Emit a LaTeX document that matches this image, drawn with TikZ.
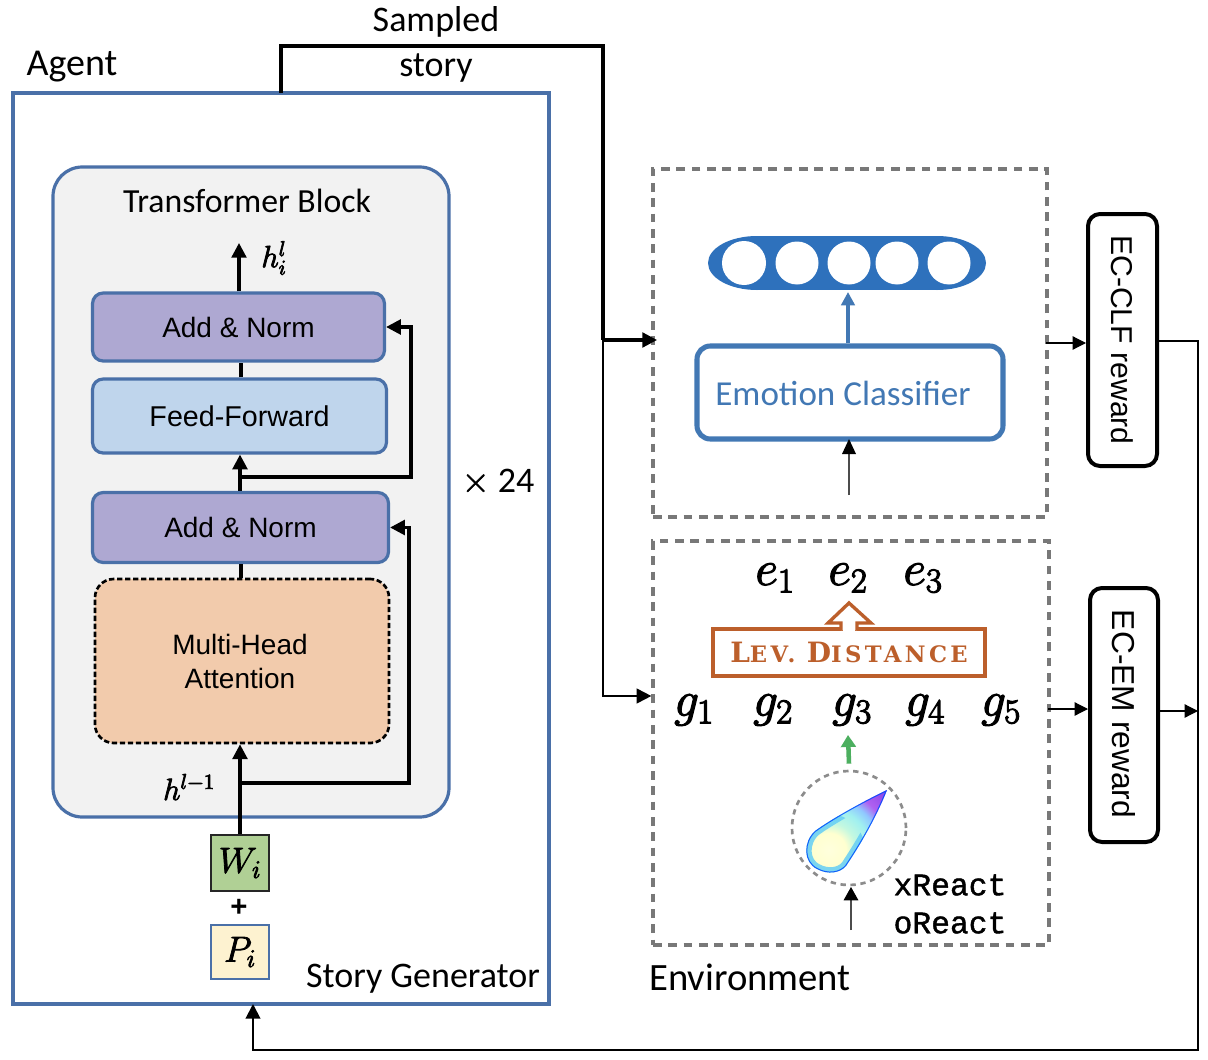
\RequirePackage{fix-cm}
\documentclass[tikz,border=0pt]{standalone}
\usepackage{fontspec}
\setmainfont{Carlito}
\newfontfamily\arialf{Liberation Sans}
\newfontfamily\monof{Liberation Mono}
\newfontfamily\levf[LetterSpace=15]{DejaVu Serif}
\usetikzlibrary{arrows.meta,positioning,calc}
\DeclareMathSizes{37}{37}{26}{18}
\DeclareMathSizes{27}{27}{19}{14}
\DeclareMathSizes{23}{23}{16}{12}
\definecolor{bluebox}{HTML}{4A70A8}
\definecolor{graybg}{HTML}{F2F2F2}
\definecolor{purp}{HTML}{AEA8D2}
\definecolor{ffblue}{HTML}{BFD5EC}
\definecolor{peach}{HTML}{F2CBAC}
\definecolor{wgreen}{HTML}{B0D095}
\definecolor{pyellow}{HTML}{FDF2D0}
\definecolor{dashgray}{HTML}{787878}
\definecolor{clsblue}{HTML}{4278B4}
\definecolor{ovalblue}{HTML}{2E71BC}
\definecolor{levc}{HTML}{BC5F2B}
\definecolor{greenarr}{HTML}{4CAF5F}
\definecolor{tb1}{HTML}{FFFFDD}
\definecolor{tb2}{HTML}{FFFFD0}
\definecolor{tb3}{HTML}{C4F8E0}
\definecolor{tb4}{HTML}{A0F0F0}
\definecolor{tb5}{HTML}{90C8FF}
\definecolor{tb6}{HTML}{B060F0}
\definecolor{tb7}{HTML}{8040E8}
\pgfdeclareradialshading{teargrad}{\pgfpoint{0bp}{0bp}}{%
 color(0bp)=(tb1); color(5bp)=(tb2); color(8bp)=(tb3); color(12bp)=(tb4); color(15bp)=(tb5); color(18bp)=(tb6); color(25bp)=(tb7); color(50bp)=(tb7)}
\newcommand{\thk}[2]{\special{pdf:code 2 Tr #1 w 0 G}#2\special{pdf:code 0 Tr}}
\tikzset{
 x=0.75pt,y=-0.75pt,
 blockbox/.style={draw=bluebox,line width=2.4pt,rounded corners=8pt,inner sep=0pt,font=\arialf\fontsize{21}{24}\selectfont,text=black},
 dbox/.style={draw=dashgray,fill=white,dash pattern=on 6.5pt off 5pt,line width=2.4pt,inner sep=0pt},
 reward/.style={draw=black,line width=3pt,rounded corners=9pt,inner sep=0pt,fill=white},
 rewtext/.style={rotate=-90,font=\arialf\fontsize{22.6}{24}\selectfont,inner sep=0pt},
 lab/.style={font=\fontsize{27}{30}\selectfont,inner sep=0pt},
 mathlab/.style={inner sep=0pt,font=\fontsize{37}{40}\selectfont},
 wire/.style={draw=black,line width=2.4pt},
 thinw/.style={draw=black,line width=0.9pt},
 head/.style={-{Triangle[length=11pt,width=11pt]}},
 smallhead/.style={-{Triangle[length=10pt,width=10pt]}},
}
\def\teardrop{(887,790) .. controls (860,803) and (830,820) .. (815,831) .. controls (803,842) and (803,862) .. (817,869) .. controls (828,875) and (840,873) .. (846,866) .. controls (860,845) and (875,820) .. (887,790) -- cycle}
\begin{document}
\begin{tikzpicture}
\useasboundingbox (0,0) rectangle (1208,1060);
% agent
\node[draw=bluebox,fill=white,line width=2.4pt,minimum width=536*0.75pt,minimum height=911*0.75pt,inner sep=0pt] (agent) at (281,548.5) {};
\node[lab,font=\fontsize{28.5}{30}\selectfont] (agentl) at (72,67) {Agent};
\node[draw=bluebox,fill=graybg,line width=2.4pt,rounded corners=22pt,minimum width=396*0.75pt,minimum height=650*0.75pt,inner sep=0pt] (tb) at (251,492) {};
\node[lab,font=\fontsize{25.3}{28}\selectfont] (tbl) at (247,201) {Transformer Block};
\node[blockbox,fill=purp,minimum width=292*0.75pt,minimum height=68*0.75pt] (an1) at (238.5,327) {Add \& Norm};
\node[blockbox,fill=ffblue,minimum width=294*0.75pt,minimum height=74*0.75pt,font=\arialf\fontsize{21.5}{24}\selectfont] (ff) at (239.5,416) {Feed-Forward};
\node[blockbox,fill=purp,minimum width=296*0.75pt,minimum height=70*0.75pt] (an2) at (240.5,527.5) {Add \& Norm};
\node[draw=black,dash pattern=on 4pt off 2pt,line width=2pt,fill=peach,rounded corners=14pt,minimum width=294*0.75pt,minimum height=164*0.75pt,inner sep=0pt,align=center,font=\arialf\fontsize{21}{25.5}\selectfont] (mha) at (242,661) {Multi-Head\hspace*{3pt}\\Attention\hspace*{3pt}};
\node[draw=black!85,line width=2pt,fill=wgreen,minimum width=58*0.75pt,minimum height=56*0.75pt,inner sep=0pt,font=\fontsize{27}{30}\selectfont] (wi) at (240,863) {\thk{0.6}{$W_i$}};
\node[draw=bluebox,line width=2pt,fill=pyellow,minimum width=58*0.75pt,minimum height=54*0.75pt,inner sep=0pt,font=\fontsize{27}{30}\selectfont] (pi) at (240,952) {\thk{0.6}{$P_i$}};
\node[inner sep=0pt,font=\arialf\fontsize{22}{24}\selectfont\bfseries] (plus) at (239,908) {+};
\node[mathlab,font=\fontsize{23}{26}\selectfont] (hl) at (274,258) {\thk{0.6}{$h_i^l$}};
\node[mathlab,font=\fontsize{23}{26}\selectfont] (hm) at (189,787) {\thk{0.6}{$h^{l-1}$}};
\node[lab] (times) at (498,482) {\thk{0.4}{$\times$} 24};
\node[lab] (sg) at (423,979) {Story Generator};
\node[lab] (sam) at (436,22) {Sampled};
\node[lab] (sto) at (436,68) {story};
\node[lab,font=\fontsize{29}{32}\selectfont] (env) at (750,977) {Environment};
% internal wires
\coordinate (top) at (239,243);
\draw[wire,head] (an1.north -| top) -- (top);
\draw[wire] (ff.north -| 241,0) -- (an1.south -| 241,0);
\draw[wire,head] (an2.north -| 240,0) -- (ff.south -| 240,0);
\coordinate (b2) at (240,477); \coordinate (r2) at (411,477);
\draw[wire,head] (b2) -- (r2) |- (an1.east);
\draw[wire] (mha.north -| 241,0) -- (an2.south -| 241,0);
\draw[wire,head] (wi.north) -- (mha.south -| wi.north);
\coordinate (b1) at (240,783); \coordinate (r1) at (409,783);
\draw[wire,head] (b1) -- (r1) |- (an2.east);
% right boxes
\node[dbox,minimum width=394*0.75pt,minimum height=348*0.75pt] (box1) at (850,343) {};
\node[dbox,minimum width=396*0.75pt,minimum height=404*0.75pt] (box2) at (851,743) {};
% Oval
\fill[ovalblue] (757,263) ellipse [x radius=49,y radius=27];
\fill[ovalblue] (937,263) ellipse [x radius=49,y radius=27];
\fill[ovalblue] (757,236) rectangle (937,290);
\node[circle,fill=white,minimum size=44*0.75pt,inner sep=0pt] (c1) at (744,263) {};
\node[circle,fill=white,minimum size=43*0.75pt,inner sep=0pt] (c2) at (797,263) {};
\node[circle,fill=white,minimum size=43*0.75pt,inner sep=0pt] (c3) at (849,263) {};
\node[circle,fill=white,minimum size=43*0.75pt,inner sep=0pt] (c4) at (897,263) {};
\node[circle,fill=white,minimum size=43*0.75pt,inner sep=0pt] (c5) at (949,263) {};
\coordinate (ovalb) at (848,292);
\node[draw=clsblue,line width=3.8pt,fill=white,rounded corners=10pt,minimum width=306*0.75pt,minimum height=93*0.75pt,inner sep=0pt] (ec) at (850,392.5) {};
\node[inner sep=0pt,text=clsblue,font=\fontsize{26.3}{28}\selectfont] (ecl) at (843,393) {Emotion Classifier};
\draw[draw=clsblue,line width=3pt,smallhead] (ec.north -| ovalb) -- (ovalb);
\coordinate (ecin) at (849,495);
\draw[draw=black!70,line width=0.8pt] (ecin) -- (849,450);
\draw[draw=none,fill=black] (849,439) -- (856,454) -- (842,454) -- cycle;
% lev
\node[draw=levc,line width=2.5pt,fill=white,minimum width=272*0.75pt,minimum height=47*0.75pt,inner sep=0pt,text=levc] (lev) at (849,652.5) {\levf\bfseries\fontsize{21}{22}\selectfont L\fontsize{17}{22}\selectfont EV. \fontsize{21}{22}\selectfont D\fontsize{17}{22}\selectfont ISTANCE};
\draw[draw=levc,line width=2.5pt,fill=white,line join=miter] (841,630) -- (841,623) -- (828,623) -- (849,603) -- (871,623) -- (857,623) -- (857,630);
\fill[white] (843,627) rectangle (855,632);
\foreach \n/\xx/\t in {e1/775/e_1,e2/848/e_2,e3/923/e_3}{\node[mathlab] (\n) at (\xx,578) {\thk{0.9}{$\t$}};}
\foreach \n/\xx/\t in {g1/694/g_1,g2/773/g_2,g3/852/g_3,g4/925/g_4,g5/1001/g_5}{\node[mathlab] (\n) at (\xx,710) {\thk{0.9}{$\t$}};}
% comet
\node[circle,draw=black!45,dash pattern=on 4pt off 3.5pt,line width=2pt,minimum size=114*0.75pt,inner sep=0pt] (com) at (849,828) {};
\begin{scope}
\clip \teardrop;
\shade[shading=teargrad] (829,850) circle (85);
\begin{scope}
\clip (829,850) circle (36);
\draw[cyan!60!white,line width=8pt,opacity=0.85] \teardrop;
\end{scope}
\draw[blue!70!cyan,line width=1.5pt,opacity=0.85] \teardrop;
\end{scope}
\draw[greenarr,line width=3.4pt,-{Triangle[length=9pt,width=11pt]}] (com.north) ++(0,-6) -- (848,735);
\coordinate (comin) at (851,930);
\draw[draw=black!70,line width=0.8pt,-{Triangle[length=10pt,width=11pt,color=black]}] (comin) -- (851,887);
\node[inner sep=0pt,font=\monof\fontsize{23.5}{26}\selectfont] (xr) at (950,885) {\thk{0.3}{xReact}};
\node[inner sep=0pt,font=\monof\fontsize{23.5}{26}\selectfont] (or) at (950,923) {\thk{0.3}{oReact}};
% reward
\node[reward,minimum width=69*0.75pt,minimum height=252*0.75pt] (clf) at (1122.5,340) {};
\node[rewtext] (clfl) at (1122,340) {EC-CLF reward};
\node[reward,minimum width=68*0.75pt,minimum height=254*0.75pt] (em) at (1124,715) {};
\node[rewtext,font=\arialf\fontsize{23.8}{25}\selectfont] (eml) at (1124,714) {EC-EM reward};
\coordinate (o1) at (1046,343);\coordinate (o2) at (1048,709);
\draw[thinw,smallhead] (o1) -- (o1 -| clf.west);
\draw[thinw,smallhead] (o2) -- (o2 -| em.west);
% feedback
\coordinate (fb1) at (1198,341);
\coordinate (fb2) at (1198,1050);
\draw[draw=black,line width=1.5pt,head] (clf.east |- fb1) -- (fb1) -- (fb2) -| (253,1004);
\coordinate (fb3) at (1198,711);
\draw[thinw,smallhead] (em.east |- fb3) -- (fb3);
% sampled story
\coordinate (s0) at (281,93);\coordinate (s1) at (281,46);\coordinate (s2) at (603,46);\coordinate (s3) at (603,340);\coordinate (s4) at (603,696);\coordinate (t1) at (657,340);
\draw[wire] (s0) -- (s1) -- (s2) -- (s3);
\draw[wire,head] (s3) -- (t1);
\draw[draw=black,line width=1.5pt,head] (s3) -- (s4) -- (s4 -| box2.west);
\end{tikzpicture}
\end{document}
